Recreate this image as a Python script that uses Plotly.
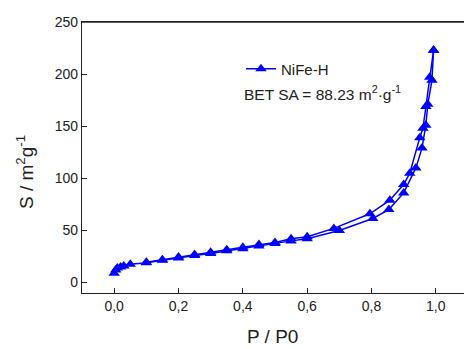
import plotly.graph_objects as go

# Adsorption branch (lower)
ads_p = [0.0, 0.005, 0.01, 0.02, 0.03, 0.05, 0.1, 0.15, 0.2, 0.25, 0.3, 0.35, 0.4, 0.45, 0.5,
         0.55, 0.6, 0.7, 0.804, 0.854, 0.9, 0.938, 0.957, 0.969, 0.975, 0.988, 0.993]
ads_s = [9, 12, 14, 15, 16, 17.5, 19, 21.5, 23.5, 26, 28, 30.5, 32.5, 35, 37.5,
         40, 42, 50, 61.5, 70, 86, 110, 129, 151, 171, 194, 223]
# Desorption branch (upper)
des_p = [0.993, 0.981, 0.969, 0.96, 0.95, 0.919, 0.9, 0.857, 0.795, 0.683, 0.6, 0.55, 0.5,
         0.45, 0.4, 0.35, 0.3, 0.25, 0.2, 0.15, 0.1]
des_s = [223, 197, 169, 148, 139, 105, 94, 79, 66, 52, 44, 42, 38.5,
         36.5, 34, 31.5, 29, 27, 24.5, 22, 19.5]

x_ticks = [0.0, 0.2, 0.4, 0.6, 0.8, 1.0]
x_tick_labels = ["0,0", "0,2", "0,4", "0,6", "0,8", "1,0"]
y_ticks = [0, 50, 100, 150, 200, 250]

W, H = 464, 349
L, R, T, B = 82, 0, 22, 56
PW, PH = W - L - R, H - T - B


def px(xp):
    return (xp - L) / PW


def py(yp):
    return 1 - (yp - T) / PH


blue = "#0000FF"
dark = "#222"
fig = go.Figure()
fig.add_trace(go.Scatter(x=ads_p, y=ads_s, mode="lines+markers", name="NiFe-H",
                         line=dict(color=blue, width=1.5),
                         marker=dict(symbol="triangle-up", size=10, color=blue),
                         showlegend=True))
fig.add_trace(go.Scatter(x=des_p, y=des_s, mode="lines+markers", name="NiFe-H",
                         line=dict(color=blue, width=1.5),
                         marker=dict(symbol="triangle-up", size=10, color=blue),
                         showlegend=False))

axis_common = dict(showline=True, linecolor=dark, linewidth=1.3, ticks="inside",
                   ticklen=5, tickcolor=dark, showgrid=False, zeroline=False,
                   tickfont=dict(family="Liberation Sans, Arial", size=14, color=dark))

fig.update_layout(
    width=W, height=H,
    margin=dict(l=L, r=R, t=T, b=B),
    paper_bgcolor="white", plot_bgcolor="white",
    font=dict(family="Liberation Sans, Arial", color=dark),
    xaxis=dict(range=[-0.1, 1.0876], tickvals=x_ticks, ticktext=x_tick_labels,
               mirror=True, **axis_common),
    yaxis=dict(range=[-10, 250], tickvals=y_ticks, mirror=False, **axis_common),
    legend=dict(x=px(241), y=py(69), xanchor="left", yanchor="middle",
                bgcolor="rgba(0,0,0,0)", font=dict(size=15, color=dark),
                itemwidth=30),
    shapes=[dict(type="line", xref="paper", yref="paper", x0=0, x1=1, y0=1, y1=1,
                 layer="above", line=dict(color=dark, width=1.5))],
    annotations=[
        dict(text="BET SA = 88.23 m<sup>2</sup>·g<sup>-1</sup>", x=px(242), y=py(93),
             xref="paper", yref="paper", showarrow=False, xanchor="left", yanchor="middle",
             font=dict(size=15.5, color=dark)),
        dict(text="P / P0", x=px(272), y=py(336), xref="paper", yref="paper",
             showarrow=False, xanchor="center", yanchor="middle",
             font=dict(size=19, color=dark)),
        dict(text="S / m<sup>2</sup>g<sup>-1</sup>", x=px(25), y=py(172), xref="paper",
             yref="paper", showarrow=False, xanchor="center", yanchor="middle",
             textangle=-90, font=dict(size=19, color=dark)),
    ],
)

fig.write_html("out.html")
